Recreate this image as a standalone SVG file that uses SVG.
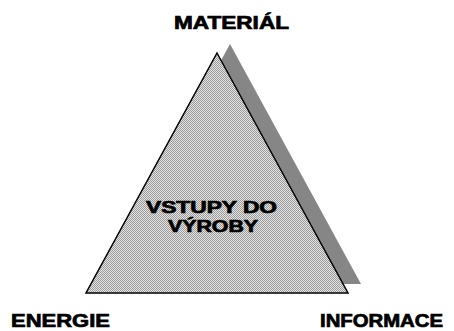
<svg xmlns="http://www.w3.org/2000/svg" width="454" height="331" viewBox="0 0 454 331">
<defs>
<pattern id="dots" width="2" height="2" patternUnits="userSpaceOnUse">
<rect width="2" height="2" fill="#e4e4e4"/>
<rect width="1" height="1" fill="#9a9a9a"/>
<rect x="1" y="1" width="1" height="1" fill="#9a9a9a"/>
</pattern>
<style>
.lbl{font-family:"Liberation Sans",Arial,sans-serif;font-weight:bold;fill:#000;stroke:#000;stroke-width:0.7}
</style>
</defs>
<rect width="454" height="331" fill="#fff"/>
<g id="pyramid">
<polygon points="230,44 361,284 99,284" fill="#868686"/>
<polygon points="217,53 348,293 86,293" fill="url(#dots)" stroke="#000" stroke-width="1.5" stroke-linejoin="miter"/>
</g>
<g id="center-label">
<text class="lbl" x="146" y="213" font-size="16" textLength="131" lengthAdjust="spacingAndGlyphs">VSTUPY DO</text>
<text class="lbl" x="168" y="232" font-size="16" textLength="90" lengthAdjust="spacingAndGlyphs">VÝROBY</text>
</g>
<g id="material">
<text class="lbl" x="174" y="29" font-size="18" textLength="115" lengthAdjust="spacingAndGlyphs">MATERIÁL</text>
</g>
<g id="energie">
<text class="lbl" x="11" y="327" font-size="18" textLength="99" lengthAdjust="spacingAndGlyphs">ENERGIE</text>
</g>
<g id="informace">
<text class="lbl" x="320" y="327" font-size="18" textLength="123" lengthAdjust="spacingAndGlyphs">INFORMACE</text>
</g>
</svg>
